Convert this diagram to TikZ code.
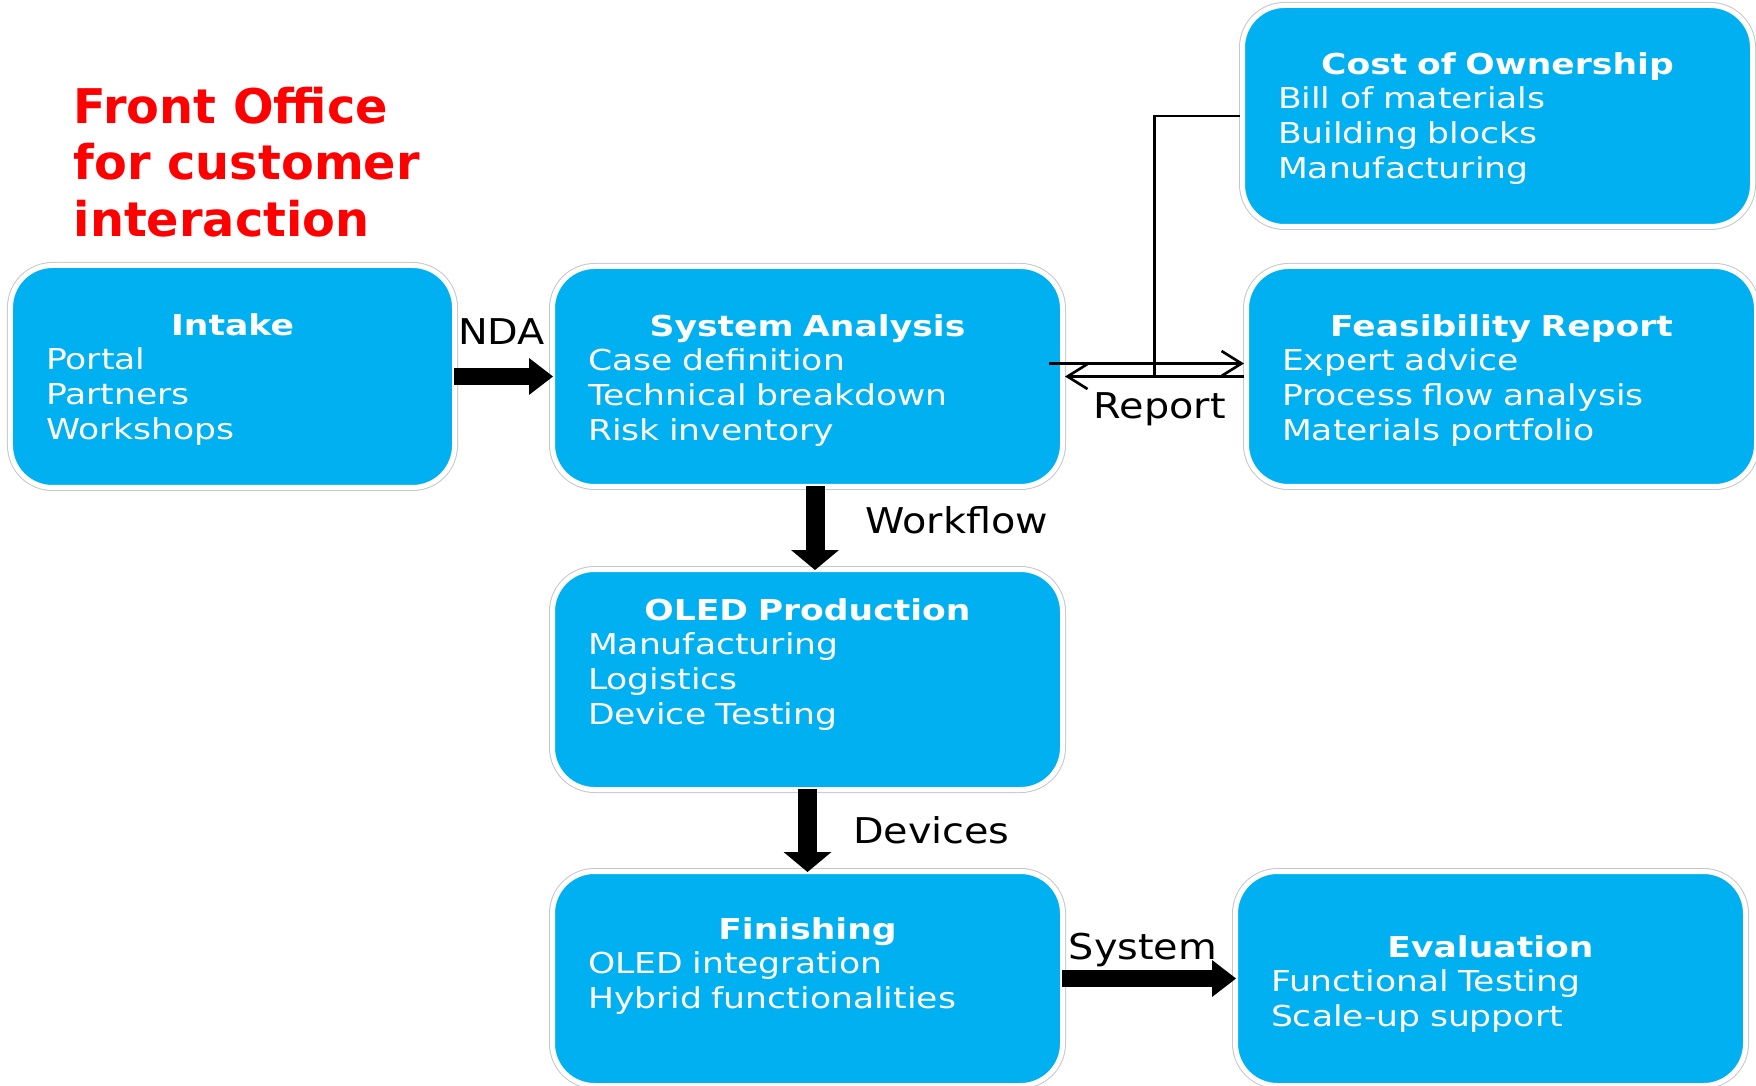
\documentclass[tikz,border=0pt]{standalone}
\usepackage{fontspec}
\setmainfont{DejaVu Sans}
\newfontfamily\boxfont[FakeStretch=1.2]{DejaVu Sans}
\newfontfamily\labelfont[FakeStretch=1.12]{DejaVu Sans}
\usetikzlibrary{arrows.meta,positioning}
\definecolor{boxblue}{HTML}{00B0F0}
\definecolor{titlered}{HTML}{FF0000}
\tikzset{
  stage/.style={rectangle, rounded corners=0.42cm, fill=boxblue, draw=white,
    line width=0.05cm, preaction={draw=black!22, line width=0.07cm},
    minimum width=5.10cm, minimum height=2.20cm, inner sep=0pt},
  stagetext/.style={inner sep=0pt, text=white, align=left, text width=4.39cm,
    font=\boxfont\fontsize{8.2pt}{9.9pt}\selectfont},
  flow/.style={line width=0.17cm, shorten <=-0.03cm, shorten >=-0.03cm,
    -{Triangle[length=0.24cm, width=0.37cm, line width=0pt]}},
  downflow/.style={line width=0.19cm, shorten <=-0.03cm, shorten >=-0.03cm,
    -{Triangle[length=0.2cm, width=0.48cm, line width=0pt]}},
  reportline/.style={line width=0.75pt},
  reporttip/.style={-{Straight Barb[length=0.2cm, width=0.25cm]}},
  flowlabel/.style={inner sep=0pt, font=\labelfont\fontsize{10.1pt}{12pt}\selectfont},
}
\newcommand{\stagebody}[2]{{\centering\bfseries #1\par}#2}
\begin{document}
\begin{tikzpicture}
\useasboundingbox (0,0) rectangle (17.56,10.85);

% Marking the front office title
\node [anchor=north west, inner sep=0pt, align=left, text=titlered,
  font=\bfseries\fontsize{13.6pt}{16.1pt}\selectfont] (frontoffice) at (0.73,9.99)
  {Front Office\\for customer\\interaction};

% Drawing box Intake
\node [stage, minimum width=4.44cm, minimum height=2.22cm] (intake) at (2.325,7.085) {};
\node [stagetext, text width=3.73cm, below=0.495cm of intake.north] (intake-text)
  {\stagebody{Intake}{Portal\\Partners\\Workshops}};

% Drawing box System Analysis
\node [stage] (sa) at (8.075,7.085) {};
\node [stagetext, below=0.495cm of sa.north] (sa-text)
  {\stagebody{System Analysis}{Case definition\\Technical breakdown\\Risk inventory}};

% Drawing box Cost of Ownership
\node [stage, minimum height=2.21cm] (cost) at (14.975,9.69) {};
\node [stagetext, below=0.485cm of cost.north] (cost-text)
  {\stagebody{Cost of Ownership}{Bill of materials\\Building blocks\\Manufacturing}};

% Drawing box Feasibility Report
\node [stage] (feas) at (15.015,7.085) {};
\node [stagetext, below=0.495cm of feas.north] (feas-text)
  {\stagebody{Feasibility Report}{Expert advice\\Process flow analysis\\Materials portfolio}};

% Drawing box OLED Production
\node [stage] (oled) at (8.075,4.055) {};
\node [stagetext, below=0.305cm of oled.north] (oled-text)
  {\stagebody{OLED Production}{Manufacturing\\Logistics\\Device Testing}};

% Drawing box Finishing
\node [stage, minimum height=2.14cm] (fin) at (8.075,1.065) {};
\node [stagetext, below=0.475cm of fin.north] (fin-text)
  {\stagebody{Finishing}{OLED integration\\Hybrid functionalities}};

% Drawing box Evaluation
\node [stage, minimum height=2.14cm] (eval) at (14.905,1.065) {};
\node [stagetext, below=0.655cm of eval.north] (eval-text)
  {\stagebody{Evaluation}{Functional Testing\\Scale-up support}};

% Drawing arrow intake sa
\draw [flow] (intake.east) -- (sa.west)
  node [flowlabel, midway, anchor=base, xshift=-0.02cm, yshift=0.32cm] (nda) {NDA};

% Drawing arrow sa oled
\draw [downflow] ([xshift=0.075cm]sa.south) -- ([xshift=0.075cm]oled.north)
  node [flowlabel, midway, right=0.41cm, yshift=0.075cm] (workflow) {Workflow};

% Drawing arrow oled fin
\draw [downflow] (oled.south) -- (fin.north)
  node [flowlabel, midway, right=0.36cm] (devices) {Devices};

% Drawing arrow fin eval
\draw [flow] (fin.east) -- (eval.west)
  node [flowlabel, midway, anchor=base, xshift=-0.06cm, yshift=0.19cm] (system) {System};

% Drawing report lines
\draw [reportline, reporttip] ([xshift=-0.16cm, yshift=0.13cm]sa.east) -- ([yshift=0.13cm]feas.west);
\draw [reportline, reporttip] (feas.west) -- (sa.east)
  node [flowlabel, pos=0.47, anchor=base, yshift=-0.42cm] (report) {Report};
\draw [reportline] (cost.west) -| ([xshift=0.895cm]sa.east);
\end{tikzpicture}
\end{document}
